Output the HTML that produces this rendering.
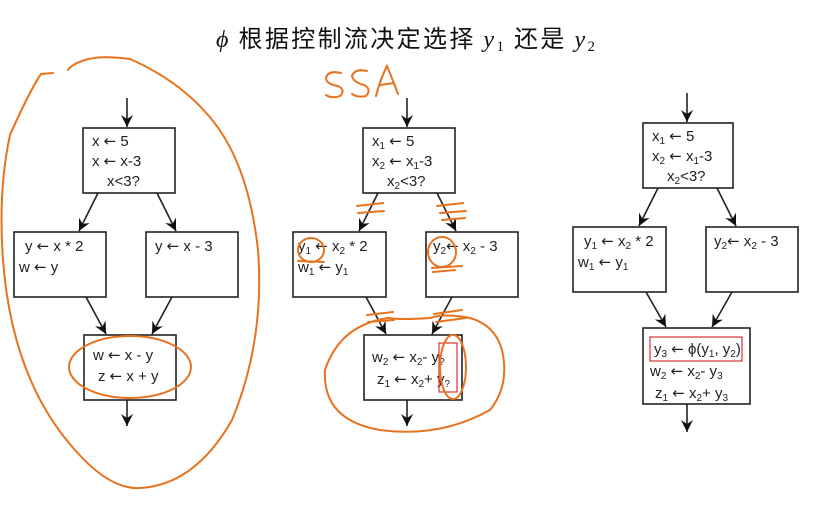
<!DOCTYPE html>
<html><head><meta charset="utf-8">
<style>
html,body{margin:0;padding:0;background:#fff;}
svg{display:block;}
.t{font-family:"Liberation Sans","DejaVu Sans",sans-serif;font-size:15px;fill:#222;}
.s{font-size:10px;}
.ar{font-family:"DejaVu Sans",sans-serif;font-size:15px;}
</style></head>
<body>
<svg width="818" height="508" viewBox="0 0 818 508" xmlns="http://www.w3.org/2000/svg">
<defs>
<marker id="a" markerWidth="12" markerHeight="14" refX="12" refY="6" orient="auto" markerUnits="userSpaceOnUse">
<path d="M0,0 L12,6 L0,12 L4,6 Z" fill="#111"/>
</marker>
</defs>
<rect width="818" height="508" fill="#fff"/>

<!-- Title -->
<text x="216" y="47" textLength="379" lengthAdjust="spacing" font-family="'Liberation Serif','Noto Serif CJK SC',serif" font-size="24" fill="#111"><tspan font-style="italic">ϕ</tspan><tspan font-family="'Noto Sans CJK SC',sans-serif"> 根据控制流决定选择 </tspan><tspan font-style="italic">y</tspan><tspan font-size="15" dy="4">1</tspan><tspan dy="-4" font-family="'Noto Sans CJK SC',sans-serif"> 还是 </tspan><tspan font-style="italic">y</tspan><tspan font-size="15" dy="4">2</tspan></text>

<g stroke="#222" stroke-width="1.6" fill="none">
<!-- Diagram 1 -->
<line x1="127" y1="98" x2="127" y2="127" marker-end="url(#a)"/>
<rect x="83" y="128" width="92" height="65"/>
<rect x="14" y="232" width="92" height="65"/>
<rect x="146" y="232" width="92" height="65"/>
<rect x="84" y="335" width="92" height="65"/>
<line x1="98" y1="193" x2="79" y2="231" marker-end="url(#a)"/>
<line x1="157" y1="193" x2="176" y2="231" marker-end="url(#a)"/>
<line x1="86" y1="297" x2="106" y2="334" marker-end="url(#a)"/>
<line x1="172" y1="297" x2="152" y2="334" marker-end="url(#a)"/>
<line x1="127" y1="400" x2="127" y2="426" marker-end="url(#a)"/>

<!-- Diagram 2 -->
<line x1="407" y1="98" x2="407" y2="127" marker-end="url(#a)"/>
<rect x="363" y="128" width="92" height="65"/>
<rect x="293" y="232" width="93" height="65"/>
<rect x="426" y="232" width="92" height="65"/>
<rect x="364" y="335" width="98" height="65"/>
<line x1="378" y1="193" x2="359" y2="231" marker-end="url(#a)"/>
<line x1="437" y1="193" x2="456" y2="231" marker-end="url(#a)"/>
<line x1="366" y1="297" x2="386" y2="334" marker-end="url(#a)"/>
<line x1="452" y1="297" x2="432" y2="334" marker-end="url(#a)"/>
<line x1="407" y1="400" x2="407" y2="426" marker-end="url(#a)"/>

<!-- Diagram 3 -->
<line x1="687" y1="93" x2="687" y2="122" marker-end="url(#a)"/>
<rect x="643" y="123" width="90" height="65"/>
<rect x="573" y="227" width="93" height="65"/>
<rect x="706" y="227" width="92" height="65"/>
<rect x="643" y="328" width="107" height="76"/>
<line x1="658" y1="188" x2="639" y2="226" marker-end="url(#a)"/>
<line x1="717" y1="188" x2="736" y2="226" marker-end="url(#a)"/>
<line x1="646" y1="292" x2="666" y2="327" marker-end="url(#a)"/>
<line x1="732" y1="292" x2="712" y2="327" marker-end="url(#a)"/>
<line x1="687" y1="404" x2="687" y2="432" marker-end="url(#a)"/>
</g>

<!-- Text diagram 1 -->
<text class="t" x="92" y="146">x <tspan class="ar">←</tspan> 5</text>
<text class="t" x="92" y="166">x <tspan class="ar">←</tspan> x-3</text>
<text class="t" x="107" y="186">x&lt;3?</text>
<text class="t" x="25" y="251">y <tspan class="ar">←</tspan> x * 2</text>
<text class="t" x="19" y="272">w <tspan class="ar">←</tspan> y</text>
<text class="t" x="155" y="251">y <tspan class="ar">←</tspan> x - 3</text>
<text class="t" x="93" y="360">w <tspan class="ar">←</tspan> x - y</text>
<text class="t" x="98" y="381">z <tspan class="ar">←</tspan> x + y</text>

<!-- Text diagram 2 -->
<text class="t" x="372" y="146">x<tspan class="s" dy="3">1</tspan><tspan dy="-3"> </tspan><tspan class="ar">←</tspan> 5</text>
<text class="t" x="372" y="166">x<tspan class="s" dy="3">2</tspan><tspan dy="-3"> </tspan><tspan class="ar">←</tspan> x<tspan class="s" dy="3">1</tspan><tspan dy="-3">-3</tspan></text>
<text class="t" x="387" y="186">x<tspan class="s" dy="3">2</tspan><tspan dy="-3">&lt;3?</tspan></text>
<text class="t" x="298" y="251">y<tspan class="s" dy="3">1</tspan><tspan dy="-3"> </tspan><tspan class="ar">←</tspan> x<tspan class="s" dy="3">2</tspan><tspan dy="-3"> * 2</tspan></text>
<text class="t" x="298" y="272">w<tspan class="s" dy="3">1</tspan><tspan dy="-3"> </tspan><tspan class="ar">←</tspan> y<tspan class="s" dy="3">1</tspan></text>
<text class="t" x="433" y="251">y<tspan class="s" dy="3">2</tspan><tspan dy="-3" class="ar">←</tspan> x<tspan class="s" dy="3">2</tspan><tspan dy="-3"> - 3</tspan></text>
<text class="t" x="372" y="362">w<tspan class="s" dy="3">2</tspan><tspan dy="-3"> </tspan><tspan class="ar">←</tspan> x<tspan class="s" dy="3">2</tspan><tspan dy="-3">- y</tspan><tspan class="s" dy="3">?</tspan></text>
<text class="t" x="377" y="384">z<tspan class="s" dy="3">1</tspan><tspan dy="-3"> </tspan><tspan class="ar">←</tspan> x<tspan class="s" dy="3">2</tspan><tspan dy="-3">+ y</tspan><tspan class="s" dy="3">?</tspan></text>
<rect x="439" y="343" width="18" height="49" fill="none" stroke="#d33" stroke-width="1.2"/>

<!-- Text diagram 3 -->
<text class="t" x="652" y="141">x<tspan class="s" dy="3">1</tspan><tspan dy="-3"> </tspan><tspan class="ar">←</tspan> 5</text>
<text class="t" x="652" y="161">x<tspan class="s" dy="3">2</tspan><tspan dy="-3"> </tspan><tspan class="ar">←</tspan> x<tspan class="s" dy="3">1</tspan><tspan dy="-3">-3</tspan></text>
<text class="t" x="667" y="181">x<tspan class="s" dy="3">2</tspan><tspan dy="-3">&lt;3?</tspan></text>
<text class="t" x="584" y="246">y<tspan class="s" dy="3">1</tspan><tspan dy="-3"> </tspan><tspan class="ar">←</tspan> x<tspan class="s" dy="3">2</tspan><tspan dy="-3"> * 2</tspan></text>
<text class="t" x="578" y="267">w<tspan class="s" dy="3">1</tspan><tspan dy="-3"> </tspan><tspan class="ar">←</tspan> y<tspan class="s" dy="3">1</tspan></text>
<text class="t" x="714" y="246">y<tspan class="s" dy="3">2</tspan><tspan dy="-3" class="ar">←</tspan> x<tspan class="s" dy="3">2</tspan><tspan dy="-3"> - 3</tspan></text>
<rect x="650" y="337" width="92" height="24" fill="none" stroke="#d33" stroke-width="1.2"/>
<text class="t" x="654" y="354">y<tspan class="s" dy="3">3</tspan><tspan dy="-3"> </tspan><tspan class="ar">←</tspan> ϕ(y<tspan class="s" dy="3">1</tspan><tspan dy="-3">, y</tspan><tspan class="s" dy="3">2</tspan><tspan dy="-3">)</tspan></text>
<text class="t" x="650" y="376">w<tspan class="s" dy="3">2</tspan><tspan dy="-3"> </tspan><tspan class="ar">←</tspan> x<tspan class="s" dy="3">2</tspan><tspan dy="-3">- y</tspan><tspan class="s" dy="3">3</tspan></text>
<text class="t" x="655" y="398">z<tspan class="s" dy="3">1</tspan><tspan dy="-3"> </tspan><tspan class="ar">←</tspan> x<tspan class="s" dy="3">2</tspan><tspan dy="-3">+ y</tspan><tspan class="s" dy="3">3</tspan></text>

<!-- Orange annotations -->
<g stroke="#e8731e" stroke-width="2" fill="none" stroke-linecap="round">
<path d="M53,73 L41,74 Q30,90 10,135 Q-2,190 3,260 Q12,380 75,450 Q110,490 140,488 Q195,485 232,420 Q265,340 258,250 Q248,160 208,115 Q178,80 130,59 Q100,55 85,60 Q72,64 68,70"/>
<ellipse cx="130" cy="367" rx="61" ry="31"/>
<!-- SSA -->
<path d="M341,73 Q328,70 326,78 Q326,84 338,86 Q346,90 340,96 Q332,99 326,95"/>
<path d="M367,71 Q355,68 352,76 Q353,82 364,85 Q372,89 366,96 Q358,98 352,94"/>
<path d="M376,96 Q380,80 387,66 Q392,78 398,94 M380,85 L394,83"/>
<!-- ellipse diagram 2 -->
<path d="M388,318 Q340,325 325,370 Q322,420 380,430 Q440,438 490,410 Q510,385 502,350 Q495,325 470,318 Q445,313 430,318 Q400,320 388,318"/>
<ellipse cx="453" cy="367" rx="13" ry="32"/>
<ellipse cx="311" cy="250" rx="13" ry="12"/>
<ellipse cx="442" cy="252" rx="14" ry="15"/>
<!-- tick marks -->
<path d="M357,206 L383,203 M358,213 L384,211"/>
<path d="M437,206 L463,203 M440,213 L466,211 M442,220 L465,218"/>
<path d="M298,261 L324,262 M432,268 L462,266 M433,272 L455,270"/>
<path d="M367,315 L393,312 M368,322 L394,320"/>
<path d="M434,314 L462,310 M436,322 L466,318"/>
</g>
</svg>
</body></html>
